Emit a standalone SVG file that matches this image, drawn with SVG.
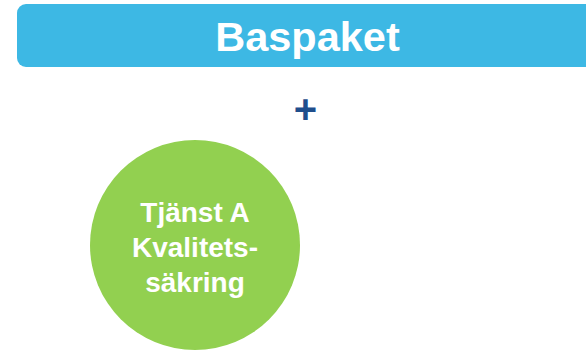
<svg xmlns="http://www.w3.org/2000/svg" width="586" height="352" viewBox="0 0 586 352">
<style>
.t{font-family:"Liberation Sans",Arial,sans-serif;font-weight:bold;text-anchor:middle}
</style>
<rect width="586" height="352" fill="#ffffff"/>
<g id="baspaket">
<rect x="17" y="4" width="590" height="63" rx="9" ry="9" fill="#3db8e4"/>
<text class="t" x="307.5" y="51" font-size="41.5" fill="#ffffff">Baspaket</text>
</g>
<g id="plus">
<text class="t" x="305.5" y="122.5" font-size="40" fill="#1f4e8c">+</text>
</g>
<g id="tjanstA">
<circle cx="195" cy="245" r="105" fill="#92d050"/>
<text class="t" font-size="28" fill="#ffffff"><tspan x="195" y="222">Tjänst A</tspan><tspan x="195" y="257">Kvalitets-</tspan><tspan x="195" y="292">säkring</tspan></text>
</g>
<g id="connectors"/>
</svg>
